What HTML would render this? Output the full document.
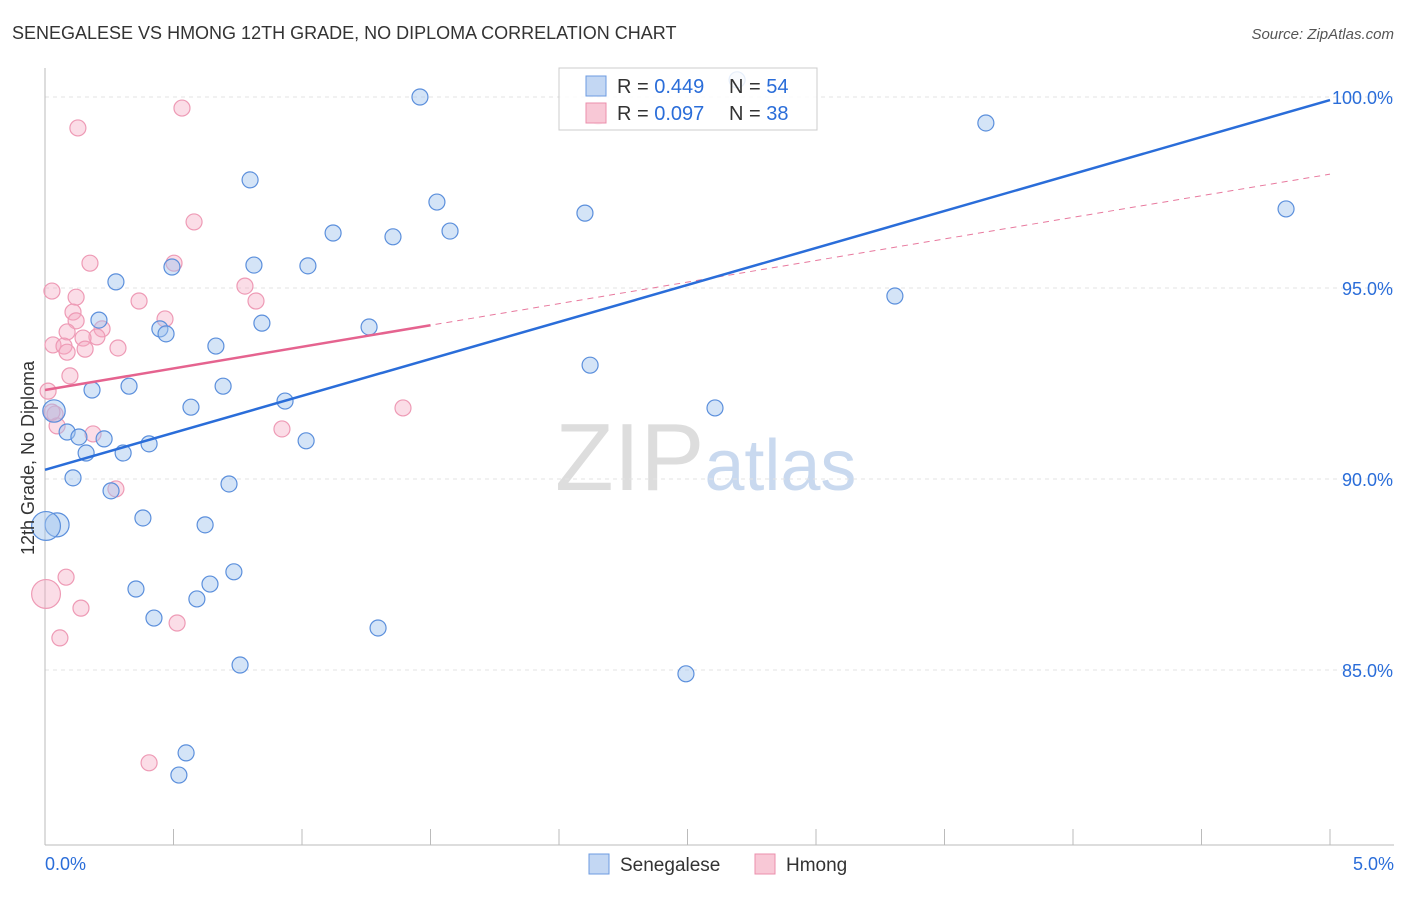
<!DOCTYPE html>
<html><head><meta charset="utf-8"><style>
body{margin:0;background:#fff;font-family:"Liberation Sans",sans-serif;}
svg text{font-family:"Liberation Sans",sans-serif;}
</style></head><body>
<svg id="chart" width="1406" height="892" xmlns="http://www.w3.org/2000/svg">
<text x="12" y="39" font-size="18" fill="#333">SENEGALESE VS HMONG 12TH GRADE, NO DIPLOMA CORRELATION CHART</text>
<text x="1394" y="39" font-size="15" fill="#555" text-anchor="end" font-style="italic">Source: ZipAtlas.com</text>
<text x="555" y="490" font-size="96" fill="#ddd" font-family="Liberation Serif">ZIP<tspan fill="#c9d9ef" font-family="Liberation Sans" font-size="72">atlas</tspan></text>
<g id="grid"></g><g id="axes"></g><g id="marks"></g>
<text transform="translate(34,458) rotate(-90)" font-size="18" fill="#333" text-anchor="middle">12th Grade, No Diploma</text>
<g>
<rect x="559" y="68" width="258" height="62" fill="#fff" fill-opacity="0.85" stroke="#ccc"/>
<rect x="586" y="76" width="20" height="20" fill="#c3d7f3" stroke="#6c9be0"/>
<rect x="586" y="103" width="20" height="20" fill="#f8c8d6" stroke="#eb8fac"/>
<text x="617" y="93" font-size="20" fill="#333">R = <tspan fill="#2a6dd9">0.449</tspan></text>
<text x="729" y="93" font-size="20" fill="#333">N = <tspan fill="#2a6dd9">54</tspan></text>
<text x="617" y="120" font-size="20" fill="#333">R = <tspan fill="#2a6dd9">0.097</tspan></text>
<text x="729" y="120" font-size="20" fill="#333">N = <tspan fill="#2a6dd9">38</tspan></text>
</g>
<g>
<rect x="589" y="854" width="20" height="20" fill="#c3d7f3" stroke="#6c9be0"/>
<text x="620" y="871" font-size="19" fill="#333">Senegalese</text>
<rect x="755" y="854" width="20" height="20" fill="#f8c8d6" stroke="#eb8fac"/>
<text x="786" y="871" font-size="19" fill="#333">Hmong</text>
</g>
</svg>
<script>
const blueX=[1.459,2.693,3.661,0.798,1.525,2.101,4.829,1.121,1.354,1.576,0.494,0.813,1.023,0.276,3.307,0.210,0.844,0.447,0.471,1.261,0.665,2.121,0.183,0.327,0.693,0.035,0.568,0.934,2.607,0.086,0.132,0.230,0.405,1.016,0.160,0.304,0.109,0.716,0.257,0.381,0.623,0.047,0.004,0.735,0.642,0.354,0.591,0.424,1.296,0.759,2.494,0.549,0.521];
const blueY=[100,100.45,99.32,97.83,97.25,96.96,97.07,96.44,96.34,96.49,95.55,95.60,95.58,95.16,94.79,94.16,94.08,93.93,93.80,93.98,93.48,92.98,92.33,92.43,92.43,91.78,91.88,92.04,91.86,91.23,91.10,91.05,90.92,91.00,90.68,90.68,90.03,89.87,89.69,88.98,88.80,88.80,88.77,87.57,87.25,87.12,86.86,86.36,86.10,85.13,84.90,82.83,82.25];
const blueW=[1,1,1,1,1,1,1,1,1,1,1,1,1,1,1,1,1,1,1,1,1,1,1,1,1,1.4,1,1,1,1,1,1,1,1,1,1,1,1,1,1,1,1.5,1.8,1,1,1,1,1,1,1,1,1,1];
const pinkX=[0.128,0.533,2.152,0.580,0.175,0.502,0.027,0.121,0.366,0.778,0.821,0.109,0.467,0.121,0.086,0.222,0.202,0.148,0.031,0.074,0.086,0.156,0.284,0.097,0.012,0.039,0.047,0.187,0.922,1.393,0.276,0.082,0.140,0.514,0.058,0.004,0.405,0.027];
const pinkY=[99.19,99.71,99.50,96.73,95.65,95.65,94.92,94.76,94.66,95.05,94.66,94.37,94.19,94.14,93.85,93.93,93.72,93.69,93.51,93.48,93.32,93.40,93.43,92.70,92.30,91.70,91.39,91.18,91.31,91.86,89.74,87.43,86.62,86.23,85.84,86.99,82.57,91.75];
const pinkW=[1,1,1,1,1,1,1,1,1,1,1,1,1,1,1,1,1,1,1,1,1,1,1,1,1,1,1,1,1,1,1,1,1,1,1,1.8,1,1];
const blueTrend=[90.24,99.92];
const pinkTrend=[92.33,97.98];
const yTicks=[100,95,90,85];
const yTickLabels=["100.0%","95.0%","90.0%","85.0%"];
const xTickLabels=["0.0%","5.0%"];

const NS="http://www.w3.org/2000/svg";
const sx=v=>45+v*257;
const sy=v=>97+(100-v)*38.2;
function mk(tag,attrs,parent){const e=document.createElementNS(NS,tag);for(const k in attrs)e.setAttribute(k,attrs[k]);parent.appendChild(e);return e;}
const grid=document.getElementById('grid'),axes=document.getElementById('axes'),marks=document.getElementById('marks');
yTicks.forEach((t,i)=>{
  const l=mk('line',{x1:45,x2:1394,y1:sy(t),y2:sy(t),stroke:'#e3e3e3','stroke-dasharray':'4,4'},grid);
  
  
  const tx=mk('text',{x:1393,y:sy(t)+7,'font-size':18,fill:'#2a6dd9','text-anchor':'end'},axes);
  tx.textContent=yTickLabels[i];
  
  
});
const ax=mk('line',{x1:45,x2:1394,y1:845,y2:845,stroke:'#bbb'},axes);


const ay=mk('line',{x1:45,x2:45,y1:68,y2:845,stroke:'#bbb'},axes);


for(let i=0;i<=10;i++){
  const t=mk('line',{x1:sx(i*0.5),x2:sx(i*0.5),y1:829,y2:845,stroke:'#bbb'},axes);
  
  
}
[[0,'start',45],[5,'end',1394]].forEach((d,i)=>{
  const t=mk('text',{x:d[2],y:870,'font-size':18,fill:'#2a6dd9','text-anchor':d[1]},axes);
  t.textContent=xTickLabels[i];
  
  
});
pinkX.forEach((x,i)=>{
  const c=mk('circle',{cx:sx(x),cy:sy(pinkY[i]),r:8*pinkW[i],fill:'rgba(245,170,195,0.4)',stroke:'#ee9ab5','stroke-width':1.2},marks);
  
  
});
blueX.forEach((x,i)=>{
  const c=mk('circle',{cx:sx(x),cy:sy(blueY[i]),r:8*blueW[i],fill:'rgba(160,195,238,0.45)',stroke:'#5b8fdc','stroke-width':1.2},marks);
  
  
});
const pd=mk('line',{x1:sx(0),y1:sy(pinkTrend[0]),x2:sx(5),y2:sy(pinkTrend[1]),stroke:'#e8799e','stroke-width':1,'stroke-dasharray':'6,5'},marks);


const pm=pinkTrend[0]+(pinkTrend[1]-pinkTrend[0])*1.5/5;
const ps=mk('line',{x1:sx(0),y1:sy(pinkTrend[0]),x2:sx(1.5),y2:sy(pm),stroke:'#e5638f','stroke-width':2.5},marks);


const bl=mk('line',{x1:sx(0),y1:sy(blueTrend[0]),x2:sx(5),y2:sy(blueTrend[1]),stroke:'#2a6dd9','stroke-width':2.5},marks);


</script>
</body></html>
